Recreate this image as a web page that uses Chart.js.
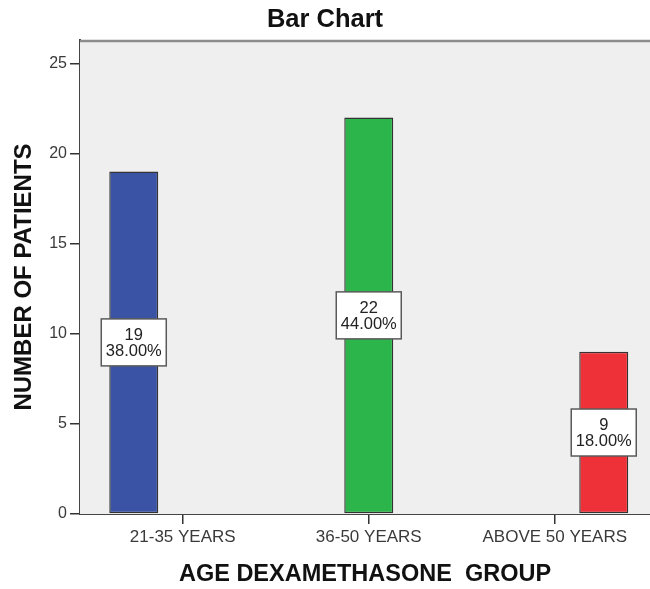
<!DOCTYPE html>
<html>
<head>
<meta charset="utf-8">
<script src="https://cdn.jsdelivr.net/npm/chart.js@4/dist/chart.umd.min.js"></script>
<style>
  html, body { margin: 0; padding: 0; background: #ffffff; }
  #wrap { width: 650px; height: 589px; position: relative; }
</style>
</head>
<body>
<div id="wrap"><canvas id="c" width="650" height="589"></canvas></div>
<script>
// ---- data ----
const categories = ["21-35 YEARS", "36-50 YEARS", "ABOVE 50 YEARS"];
const seriesA = [19, null, null];   // 21-35 YEARS
const seriesB = [null, 22, null];   // 36-50 YEARS
const seriesC = [null, null, 9];    // ABOVE 50 YEARS
const yTickValues = [0, 5, 10, 15, 20, 25];
const titleText = "Bar Chart";
const xTitle = "AGE DEXAMETHASONE  GROUP";
const yTitle = "NUMBER OF PATIENTS";

const total = [...seriesA, ...seriesB, ...seriesC].reduce((s, v) => s + (v || 0), 0);
const toPoints = arr => arr.map((v, i) => ({ x: i, y: v }));

const FONT = "'Liberation Sans', Arial, sans-serif";

const plotBg = {
  id: 'plotBg',
  beforeDatasetsDraw(chart) {
    const { ctx, chartArea: a } = chart;
    ctx.save();
    ctx.fillStyle = '#efefef';
    ctx.fillRect(a.left, a.top, a.right - a.left, a.bottom - a.top);
    ctx.strokeStyle = '#8c8c8c';
    ctx.lineWidth = 2.5;
    ctx.beginPath();
    ctx.moveTo(a.left, a.top + 1);
    ctx.lineTo(a.right, a.top + 1);
    ctx.stroke();
    ctx.restore();
  }
};

const boxLabels = {
  id: 'boxLabels',
  afterDatasetsDraw(chart) {
    const { ctx } = chart;
    ctx.save();
    chart.data.datasets.forEach((ds, di) => {
      const meta = chart.getDatasetMeta(di);
      meta.data.forEach((el, i) => {
        const v = ds.data[i].y;
        if (v === null || v === undefined) return;
        const cx = el.x;
        const cy = (el.y + el.base) / 2;
        const w = 65, h = 47;
        ctx.fillStyle = '#ffffff';
        ctx.fillRect(cx - w / 2, cy - h / 2, w, h);
        ctx.strokeStyle = '#5a5a5a';
        ctx.lineWidth = 1.5;
        ctx.strokeRect(cx - w / 2, cy - h / 2, w, h);
        ctx.fillStyle = '#222';
        ctx.font = "16.5px " + FONT;
        ctx.textAlign = 'center';
        ctx.textBaseline = 'middle';
        ctx.fillText(String(v), cx, cy - 7);
        ctx.fillText((v / total * 100).toFixed(2) + '%', cx, cy + 9);
      });
    });
    ctx.restore();
  }
};

new Chart(document.getElementById('c'), {
  type: 'bar',
  data: {
    datasets: [
      { label: categories[0], data: toPoints(seriesA), backgroundColor: '#3a53a4', borderColor: '#333', borderWidth: 1.4, borderSkipped: false },
      { label: categories[1], data: toPoints(seriesB), backgroundColor: '#2cb54a', borderColor: '#333', borderWidth: 1.4, borderSkipped: false },
      { label: categories[2], data: toPoints(seriesC), backgroundColor: '#ee3138', borderColor: '#333', borderWidth: 1.4, borderSkipped: false }
    ]
  },
  options: {
    responsive: false,
    animation: false,
    devicePixelRatio: 1,
    layout: { padding: 0 },
    datasets: { bar: { categoryPercentage: 0.79, barPercentage: 1.0 } },
    plugins: {
      legend: { display: false },
      tooltip: { enabled: false },
      title: {
        display: true, text: titleText, color: '#111',
        font: { family: FONT, size: 25.5, weight: 'bold' },
        padding: { top: 4.5, bottom: 4.9 }
      }
    },
    scales: {
      x: {
        type: 'linear',
        offset: false,
        min: -0.5524, max: 2.512,
        grid: { display: true, drawOnChartArea: false, drawTicks: true, tickLength: 10, color: '#333', lineWidth: 1.5, offset: false },
        border: { display: true, color: '#444', width: 2 },
        ticks: {
          stepSize: 1, includeBounds: false, autoSkip: false, maxRotation: 0,
          color: '#3a3a3a', padding: 3,
          font: { family: FONT, size: 17 },
          callback: v => categories[v] !== undefined ? categories[v] : ''
        },
        title: {
          display: true, text: xTitle, color: '#111',
          font: { family: FONT, size: 23.5, weight: 'bold' },
          padding: { top: 0, bottom: 0 }
        },
        afterFit: s => { s.height = 75; }
      },
      y: {
        min: 0, max: 26.3,
        grid: { display: true, drawOnChartArea: false, drawTicks: true, tickLength: 10, color: '#333', lineWidth: 1.5 },
        border: { display: true, color: '#444', width: 2 },
        afterBuildTicks: s => { s.ticks = yTickValues.map(v => ({ value: v })); },
        ticks: {
          color: '#3a3a3a', padding: 3,
          font: { family: FONT, size: 16 }
        },
        title: {
          display: true, text: yTitle, color: '#111',
          font: { family: FONT, size: 24, weight: 'bold' },
          padding: { top: 10, bottom: 0 }
        },
        afterFit: s => { s.width = 80; }
      }
    }
  },
  plugins: [plotBg, boxLabels]
});
</script>
</body>
</html>
